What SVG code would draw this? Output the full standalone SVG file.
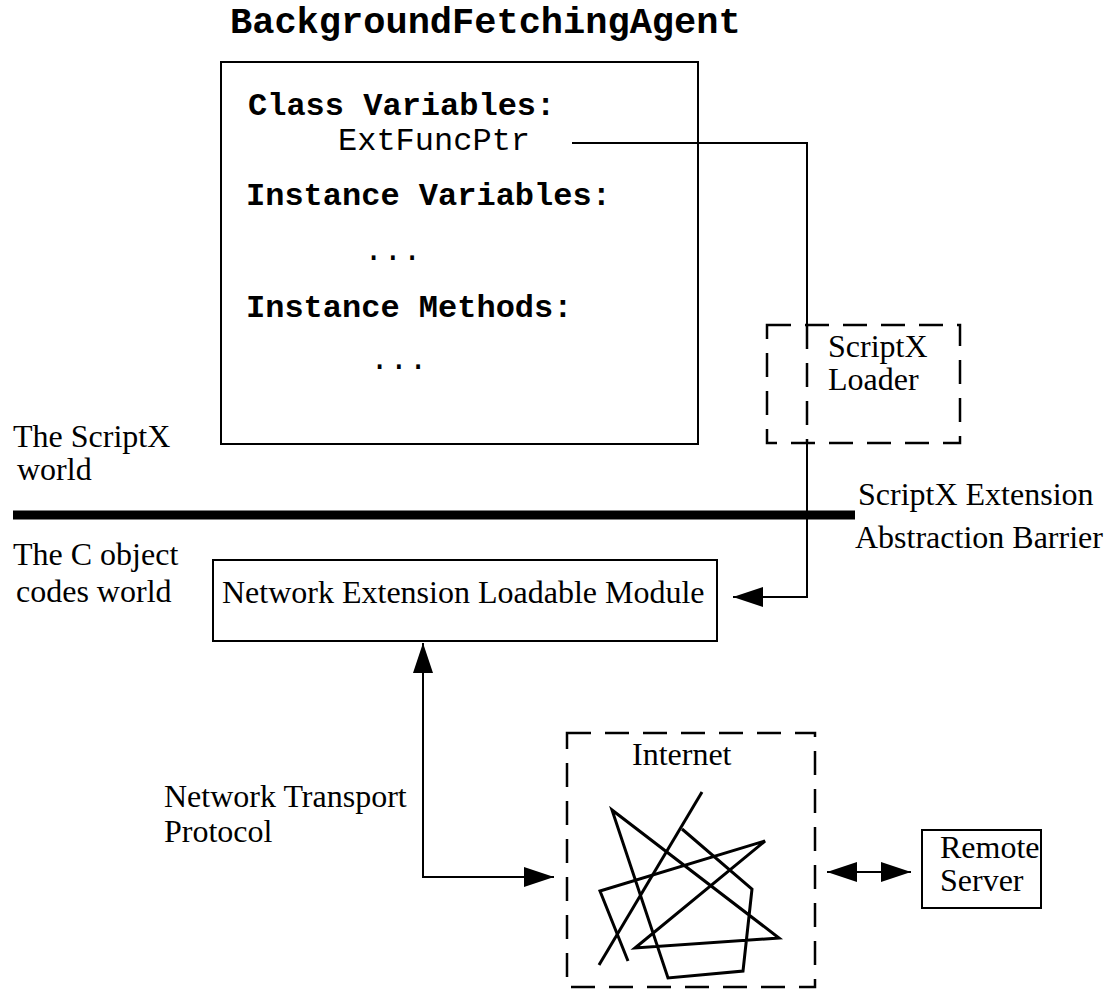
<svg xmlns="http://www.w3.org/2000/svg" width="1108" height="996" viewBox="0 0 1108 996">
  <style>
    .mono { font-family: "Liberation Mono", "Courier New", monospace; fill: #000; }
    .bold { font-weight: bold; }
    .serif { font-family: "Liberation Serif", "Times New Roman", serif; font-size: 32px; fill: #000; }
    .box { fill: #fff; stroke: #000; stroke-width: 2; }
    .dash { fill: none; stroke: #000; stroke-width: 2.5; stroke-dasharray: 24 14; }
    .line { fill: none; stroke: #000; stroke-width: 2; }
    .net { fill: none; stroke: #000; stroke-width: 3; stroke-linejoin: miter; }
  </style>
  <defs>
    <marker id="arr" viewBox="0 0 30 20" refX="30" refY="10" markerWidth="30" markerHeight="20" markerUnits="userSpaceOnUse" orient="auto-start-reverse">
      <path d="M0,0 L30,10 L0,20 z" fill="#000"/>
    </marker>
  </defs>
  <rect width="1108" height="996" fill="#fff"/>

  <g id="agent">
    <text class="mono bold" x="230" y="33" font-size="37">BackgroundFetchingAgent</text>
    <rect class="box" x="221" y="62" width="477" height="382"/>
    <text class="mono bold" x="248" y="115" font-size="32">Class Variables:</text>
    <text class="mono" x="338" y="150" font-size="32">ExtFuncPtr</text>
    <text class="mono bold" x="246" y="205" font-size="32">Instance Variables:</text>
    <text class="mono" x="364" y="260" font-size="32">...</text>
    <text class="mono bold" x="246" y="317" font-size="32">Instance Methods:</text>
    <text class="mono" x="370" y="369" font-size="32">...</text>
  </g>

  <g id="loader">
    <rect class="dash" x="767" y="325" width="193" height="118"/>
    <text class="serif" x="828" y="357">ScriptX</text>
    <text class="serif" x="828" y="390">Loader</text>
  </g>

  <g id="barrier">
    <line x1="13" y1="515" x2="855" y2="515" stroke="#000" stroke-width="9"/>
    <text class="serif" x="858" y="505">ScriptX Extension</text>
    <text class="serif" x="855" y="548">Abstraction Barrier</text>
  </g>

  <g id="world-labels">
    <text class="serif" x="13" y="447">The ScriptX</text>
    <text class="serif" x="17" y="480">world</text>
    <text class="serif" x="13" y="565">The C object</text>
    <text class="serif" x="16" y="602">codes world</text>
  </g>

  <g id="module">
    <rect class="box" x="213" y="560" width="504" height="81"/>
    <text class="serif" x="222" y="603">Network Extension Loadable Module</text>
  </g>

  <g id="protocol-label">
    <text class="serif" x="164" y="807">Network Transport</text>
    <text class="serif" x="164" y="842">Protocol</text>
  </g>

  <g id="internet">
    <rect class="dash" x="567" y="733" width="248" height="254"/>
    <text class="serif" x="632" y="765">Internet</text>
    <line class="net" x1="702" y1="792" x2="599" y2="965"/>
    <polyline class="net" points="628,961 600,891 765,841 635,948 779,938 612,810 668,978 743,971 752,889 682,829"/>
  </g>

  <g id="remote">
    <rect class="box" x="922" y="830" width="119" height="78"/>
    <text class="serif" x="940" y="858">Remote</text>
    <text class="serif" x="940" y="891">Server</text>
  </g>

  <g id="connectors">
    <path class="line" d="M572,143 H807 V325"/>
    <path class="dash" d="M807,325 V443" stroke-width="2"/>
    <path class="line" d="M807,443 V597 H733" marker-end="url(#arr)"/>
    <path class="line" d="M423,643 V877 H554" marker-start="url(#arr)" marker-end="url(#arr)"/>
    <path class="line" d="M827,872 H911" marker-start="url(#arr)" marker-end="url(#arr)"/>
  </g>
</svg>
